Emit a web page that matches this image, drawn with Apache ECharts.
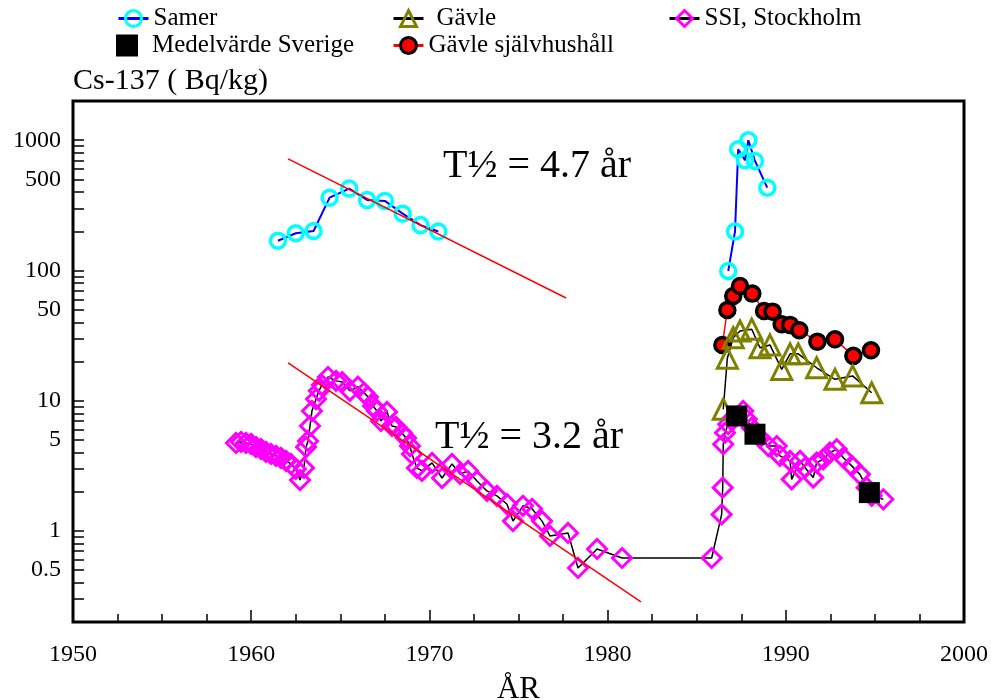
<!DOCTYPE html>
<html>
<head>
<meta charset="utf-8">
<script src="https://cdn.jsdelivr.net/npm/echarts@6/dist/echarts.min.js"></script>
<style>html,body{margin:0;padding:0;background:#fff}#c{width:991px;height:700px}</style>
</head>
<body>
<div id="c"></div>
<script>
// ---------- data ----------
const samerEarlyYears  = [1961.5, 1962.5, 1963.5, 1964.4, 1965.5, 1966.5, 1967.5, 1968.5, 1969.5, 1970.5];
const samerEarlyValues = [169, 193, 201, 362, 425, 348, 342, 273, 223, 199];
const samerLateYears   = [1986.77, 1987.15, 1987.33, 1987.71, 1987.9, 1988.27, 1988.96];
const samerLateValues  = [99, 199, 852, 702, 1000, 693, 432];

const gavleYears  = [1986.49, 1986.72, 1987.05, 1987.43, 1988.09, 1988.55, 1989.11, 1989.77, 1990.24, 1990.7, 1991.73, 1992.76, 1993.75, 1994.82];
const gavleValues = [8.6, 21.2, 30.5, 34.3, 35.4, 25.5, 26.8, 17.4, 22.9, 22.9, 17.9, 14.6, 15.5, 11.5];

const sjalvYears  = [1986.44, 1986.72, 1987.05, 1987.43, 1988.12, 1988.78, 1989.26, 1989.77, 1990.24, 1990.76, 1991.77, 1992.76, 1993.79, 1994.78];
const sjalvValues = [26.8, 49.7, 63.7, 76, 66.4, 48.9, 48.3, 38.6, 38.2, 34.8, 28.4, 29.6, 22.1, 24.4];

const ssiYears = [
  1959.15, 1959.43, 1959.71, 1959.99, 1960.27, 1960.55, 1960.83, 1961.11, 1961.39, 1961.67,
  1961.95, 1962.23, 1962.51, 1962.74, 1962.96, 1963.08, 1963.19, 1963.3, 1963.41, 1963.64,
  1963.8, 1963.97, 1964.31, 1964.76, 1965.1, 1965.54, 1965.99, 1966.33, 1966.55, 1966.84,
  1967.06, 1967.28, 1967.62, 1967.9, 1968.13, 1968.46, 1968.69, 1968.91, 1969.02, 1969.3,
  1969.58, 1970.15, 1970.71, 1971.27, 1971.72, 1972.17, 1972.67, 1973.23, 1973.79, 1974.35,
  1974.69, 1975.25, 1975.76, 1976.32, 1976.77, 1977.78, 1978.34, 1979.41, 1980.81,
  1985.84, 1986.4, 1986.46, 1986.49, 1986.59, 1986.77, 1987.05, 1987.61, 1987.81, 1988.09,
  1988.55, 1989.02, 1989.49, 1989.67, 1990.24, 1990.33, 1990.8, 1991.08, 1991.54, 1991.73,
  1992.1, 1992.47, 1992.86, 1993.23, 1993.7, 1994.16, 1994.54, 1994.82, 1995.47
];
const ssiValues = [
  4.74, 4.82, 4.74, 4.66, 4.41, 4.26, 4.04, 3.90, 3.77, 3.64,
  3.45, 3.27, 2.99, 2.46, 3.05, 4.41, 4.91, 6.40, 8.34, 10.3,
  11.9, 13.2, 15.2, 14.2, 13.9, 11.9, 12.8, 11.5, 10.7, 9.11,
  8.34, 6.99, 8.20, 6.40, 6.29, 5.65, 5.18, 4.49, 3.90, 3.05,
  2.89, 3.33, 2.55, 3.27, 2.74, 2.89, 2.42, 2.03, 1.86, 1.61,
  1.19, 1.56, 1.48, 1.19, 0.915, 0.965, 0.52, 0.727, 0.62,
  0.62, 1.34, 2.15, 4.63, 5.68, 6.60, 7.41, 8.34, 7.20, 6.21,
  5.20, 4.49, 4.49, 3.77, 3.45, 2.49, 3.45, 3.06, 2.57, 3.35,
  3.55, 3.99, 4.24, 3.65, 3.16, 2.72, 2.15, 1.86, 1.75
];

const medelYears  = [1987.24, 1988.27, 1994.69];
const medelValues = [7.64, 5.53, 1.97];

// half-life trend lines (end points)
const trendUpperYears  = [1962.07, 1977.67];
const trendUpperValues = [718, 61.5];
const trendLowerYears  = [1962.07, 1981.87];
const trendLowerValues = [19.5, 0.285];

// axes
const xTickValues = [1950, 1960, 1970, 1980, 1990, 2000];
const yMin = 0.2, yMax = 2000;
const yDecadeLabels = ['1', '10', '100', '1000'];
const yHalfLabels = ['0.5', '5', '50', '500'];
const yMinorDigits = [2, 3, 4, 5, 6, 7, 8, 9];

// ---------- build ----------
const SERIF = "'Liberation Serif','Times New Roman',serif";
const zip = (xs, ys) => xs.map((x, i) => [x, ys[i]]);
const fmtNum = v => String(+Number(v).toPrecision(4));

const samerData = zip(samerEarlyYears, samerEarlyValues).concat([[1978, '-']], zip(samerLateYears, samerLateValues));

const tickLine = { color: '#000', width: 1.5 };

const yAxes = [{
  type: 'log', logBase: 10, min: yMin, max: yMax,
  axisLine: { show: false },
  axisTick: { show: true, inside: true, length: 11, lineStyle: tickLine },
  axisLabel: {
    fontFamily: SERIF, fontSize: 24, color: '#000', margin: 12,
    showMinLabel: false, showMaxLabel: false,
    formatter: v => (yDecadeLabels.indexOf(fmtNum(v)) >= 0 ? fmtNum(v) : '')
  },
  splitLine: { show: false },
  name: 'Cs-137 ( Bq/kg)', nameLocation: 'end', nameGap: 5,
  nameTextStyle: { fontFamily: SERIF, fontSize: 30, color: '#000', align: 'left', verticalAlign: 'bottom' }
}];
yMinorDigits.forEach(d => {
  const m = 10 / d;
  const labelled = d === 5;
  yAxes.push({
    type: 'log', logBase: 10, min: yMin * m, max: yMax * m, position: 'left',
    axisLine: { show: false },
    axisTick: { show: true, inside: true, length: 11, lineStyle: tickLine },
    axisLabel: labelled ? {
      fontFamily: SERIF, fontSize: 24, color: '#000', margin: 12,
      showMinLabel: false, showMaxLabel: false,
      formatter: v => { const s = fmtNum(v / m); return yHalfLabels.indexOf(s) >= 0 ? s : ''; }
    } : { show: false },
    splitLine: { show: false }
  });
});

const legendCommon = {
  orient: 'horizontal', padding: 0, itemWidth: 30, itemHeight: 20, selectedMode: false,
  textStyle: { fontFamily: SERIF, fontSize: 25, color: '#000' },
  lineStyle: { width: 3 }, itemStyle: { borderWidth: 3 }
};

const option = {
  animation: false,
  backgroundColor: '#fff',
  grid: { left: 73, right: 27, top: 101, bottom: 78, show: true, borderColor: '#000', borderWidth: 3, backgroundColor: 'transparent', containLabel: false, outerBoundsMode: 'none' },
  legend: [
    Object.assign({}, legendCommon, { data: ['Samer'], left: 117, top: 6 }),
    Object.assign({}, legendCommon, { data: ['Gävle'], left: 392, top: 6, textStyle: Object.assign({}, legendCommon.textStyle, { padding: [0, 0, 0, 8] }) }),
    Object.assign({}, legendCommon, { data: ['SSI, Stockholm'], left: 668, top: 6 }),
    Object.assign({}, legendCommon, { data: ['Medelvärde Sverige'], left: 116, top: 33, itemWidth: 22, itemHeight: 22, itemStyle: { borderWidth: 0, opacity: 1 }, textStyle: Object.assign({}, legendCommon.textStyle, { padding: [0, 0, 0, 9] }) }),
    Object.assign({}, legendCommon, { data: ['Gävle självhushåll'], left: 392, top: 33 })
  ],
  xAxis: {
    type: 'value', min: xTickValues[0], max: xTickValues[xTickValues.length - 1], interval: 10,
    axisLine: { show: false },
    axisTick: { show: true, inside: true, length: 12, lineStyle: tickLine },
    minorTick: { show: true, splitNumber: 4, length: 8, lineStyle: tickLine },
    axisLabel: { fontFamily: SERIF, fontSize: 24, color: '#000', margin: 21, formatter: v => String(v) },
    splitLine: { show: false }, minorSplitLine: { show: false },
    name: 'ÅR', nameLocation: 'middle', nameGap: 52,
    nameTextStyle: { fontFamily: SERIF, fontSize: 31, color: '#000' }
  },
  yAxis: yAxes,
  graphic: [
    { type: 'text', x: 537, y: 166, silent: true, style: { text: 'T½ = 4.7 år', font: '40px ' + SERIF, fill: '#000', align: 'center', verticalAlign: 'middle' } },
    { type: 'text', x: 529, y: 437, silent: true, style: { text: 'T½ = 3.2 år', font: '40px ' + SERIF, fill: '#000', align: 'center', verticalAlign: 'middle' } }
  ],
  series: [
    {
      name: 'SSI, Stockholm', type: 'line', data: zip(ssiYears, ssiValues), z: 2,
      symbol: 'diamond', symbolSize: 19,
      itemStyle: { color: 'rgba(255,255,255,0)', borderColor: '#ff00ff', borderWidth: 3 },
      lineStyle: { color: '#000', width: 1.5 }, emphasis: { disabled: true }
    },
    {
      name: 'Gävle självhushåll', type: 'line', data: zip(sjalvYears, sjalvValues), z: 3,
      symbol: 'circle', symbolSize: 15,
      itemStyle: { color: '#ff0000', borderColor: '#000', borderWidth: 3.5 },
      lineStyle: { color: '#ff0000', width: 1.5 }, emphasis: { disabled: true }
    },
    {
      name: 'Gävle', type: 'line', data: zip(gavleYears, gavleValues), z: 4,
      symbol: 'triangle', symbolSize: 20,
      itemStyle: { color: 'rgba(255,255,255,0)', borderColor: '#808000', borderWidth: 3 },
      lineStyle: { color: '#000', width: 1.5 }, emphasis: { disabled: true }
    },
    {
      name: 'Samer', type: 'line', data: samerData, z: 4, connectNulls: false,
      symbol: 'circle', symbolSize: 15,
      itemStyle: { color: 'rgba(255,255,255,0)', borderColor: '#00ffff', borderWidth: 3.5 },
      lineStyle: { color: '#0000ff', width: 2 }, emphasis: { disabled: true }
    },
    {
      name: 'Medelvärde Sverige', type: 'scatter', data: zip(medelYears, medelValues), z: 6,
      symbol: 'rect', symbolSize: 21,
      itemStyle: { color: '#000', opacity: 1 }, emphasis: { disabled: true }
    },
    {
      type: 'line', data: zip(trendUpperYears, trendUpperValues), z: 5, silent: true,
      symbol: 'none', lineStyle: { color: '#ff0000', width: 1.5 }
    },
    {
      type: 'line', data: zip(trendLowerYears, trendLowerValues), z: 5, silent: true,
      symbol: 'none', lineStyle: { color: '#ff0000', width: 1.5 }
    }
  ]
};

const chart = echarts.init(document.getElementById('c'), null, { renderer: 'canvas' });
chart.setOption(option);
</script>
</body>
</html>
